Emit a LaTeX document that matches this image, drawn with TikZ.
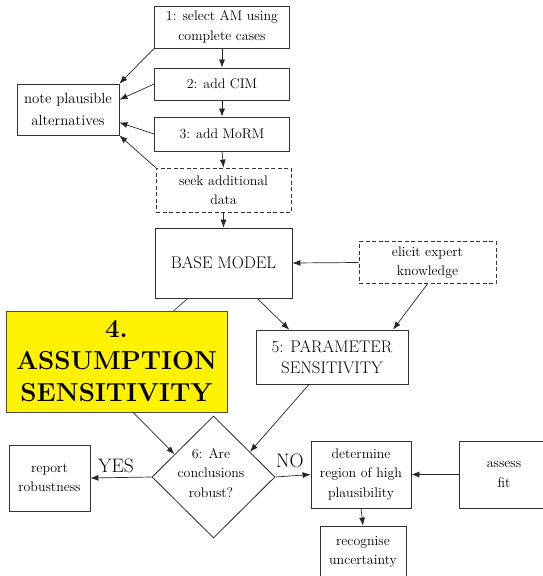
\documentclass[tikz,border=0pt]{standalone}
\usepackage{fontspec}
\usetikzlibrary{shapes.geometric,arrows.meta,calc,backgrounds}
\begin{document}
\begin{tikzpicture}[x=1pt,y=-1pt,
  every node/.style={inner sep=0pt, align=center, font=\fontsize{13.9}{19.5}\selectfont},
  box/.style={draw=black!80, line width=0.8pt, rectangle},
  dashbox/.style={box, dash pattern=on 4pt off 2.5pt},
  bigtext/.style={font=\fontsize{16.8}{21.5}\selectfont},
  hugetext/.style={font=\fontsize{26}{32}\selectfont\bfseries},
  labeltext/.style={font=\fontsize{19.5}{22}\selectfont},
  link/.style={draw=black!85, line width=0.7pt, -{Latex[length=8pt,width=6pt]}},
  plain/.style={draw=black!70, line width=0.8pt},
]
\useasboundingbox (0,0) rectangle (542,576);

% model building chain
\node[box, minimum width=135pt, minimum height=42pt] (s1) at (222,27) {1: select AM using\\complete cases};
\node[box, minimum width=135pt, minimum height=32pt] (s2) at (222,84) {2: add CIM};
\node[box, minimum width=135pt, minimum height=34pt] (s3) at (222,134) {3: add MoRM};
\node[dashbox, minimum width=135pt, minimum height=44pt] (seek) at (223.5,190) {seek additional\\data};
\node[box, minimum width=102pt, minimum height=51pt, font=\fontsize{14.8}{22}\selectfont] (note) at (68,109.5) {note plausible\\alternatives};
\node[box, minimum width=137pt, minimum height=70pt, bigtext] (base) at (223.5,263) {BASE MODEL};
\node[dashbox, minimum width=137pt, minimum height=42pt] (eli) at (427.5,262.5) {elicit expert\\knowledge};

% sensitivity stages
\node[box, fill=yellow, draw=black!70, minimum width=221pt, minimum height=101pt, hugetext] (yel) at (116.5,361.5) {4.\\ASSUMPTION\\SENSITIVITY};
\node[box, minimum width=152pt, minimum height=54pt, bigtext] (par) at (332,357) {5: PARAMETER\\SENSITIVITY};

% decision and outcomes
\node[diamond, draw=black!85, line width=0.8pt, minimum width=123pt, minimum height=122pt] (d) at (213.5,477) {};
\node (dtext) at (211,473) {6: Are\\conclusions\\robust?};
\node[box, minimum width=81pt, minimum height=66pt] (rep) at (49.5,478) {report\\robustness};
\node[box, minimum width=100pt, minimum height=67pt] (det) at (361,474.5) {determine\\region of high\\plausibility};
\node[box, minimum width=90pt, minimum height=67pt] (ass) at (504,474.5) {assess\\fit};
\node[box, minimum width=86pt, minimum height=52pt] (rec) at (363,552) {recognise\\uncertainty};

% hidden link running under the highlighted stage
\begin{scope}[on background layer]
  \draw[plain] ($(base.south west)!0.24!(base.south east)$) -- (yel.center);
\end{scope}

% connectors
\draw[link] (s1.south) -- (s2.north);
\draw[link] (s2.south) -- (s3.north);
\draw[link] (s3.south) -- (seek.north);
\draw[link] (seek.south) -- (base.north);
\draw[link] (s1.south west) -- (note.north east);
\draw[link] (s2.west) -- ($(note.north east)!0.31!(note.south east)$);
\draw[link] (s3.west) -- ($(note.north east)!0.75!(note.south east)$);
\draw[link] (seek.north west) -- (note.south east);
\draw[plain] ($(note.south)+(2,0)$) -- ($(note.south)+(2,0)$ |- yel.north);
\draw[link] (eli.west) -- (base.east);
\draw[link] (eli.south) -- ($(par.north west)!0.9!(par.north east)$);
\draw[link] ($(base.south west)!0.745!(base.south east)$) -- ($(par.north west)!0.22!(par.north east)$);
\draw[link] ($(par.south west)!0.35!(par.south east)$) -- ($(d.north)!0.59!(d.east)$);
\draw[link] ($(yel.south west)!0.575!(yel.south east)$) -- ($(d.west)!0.37!(d.north)$);
\draw[link] (d.west) -- node[labeltext, above=4pt, xshift=-5pt] {YES} (rep.east);
\draw[link] (d.east) -- node[labeltext, above=8pt, xshift=-3pt] {NO} (det.west);
\draw[link] (ass.west) -- (det.east);
\draw[link] (det.south) -- (rec.north);
\end{tikzpicture}
\end{document}
